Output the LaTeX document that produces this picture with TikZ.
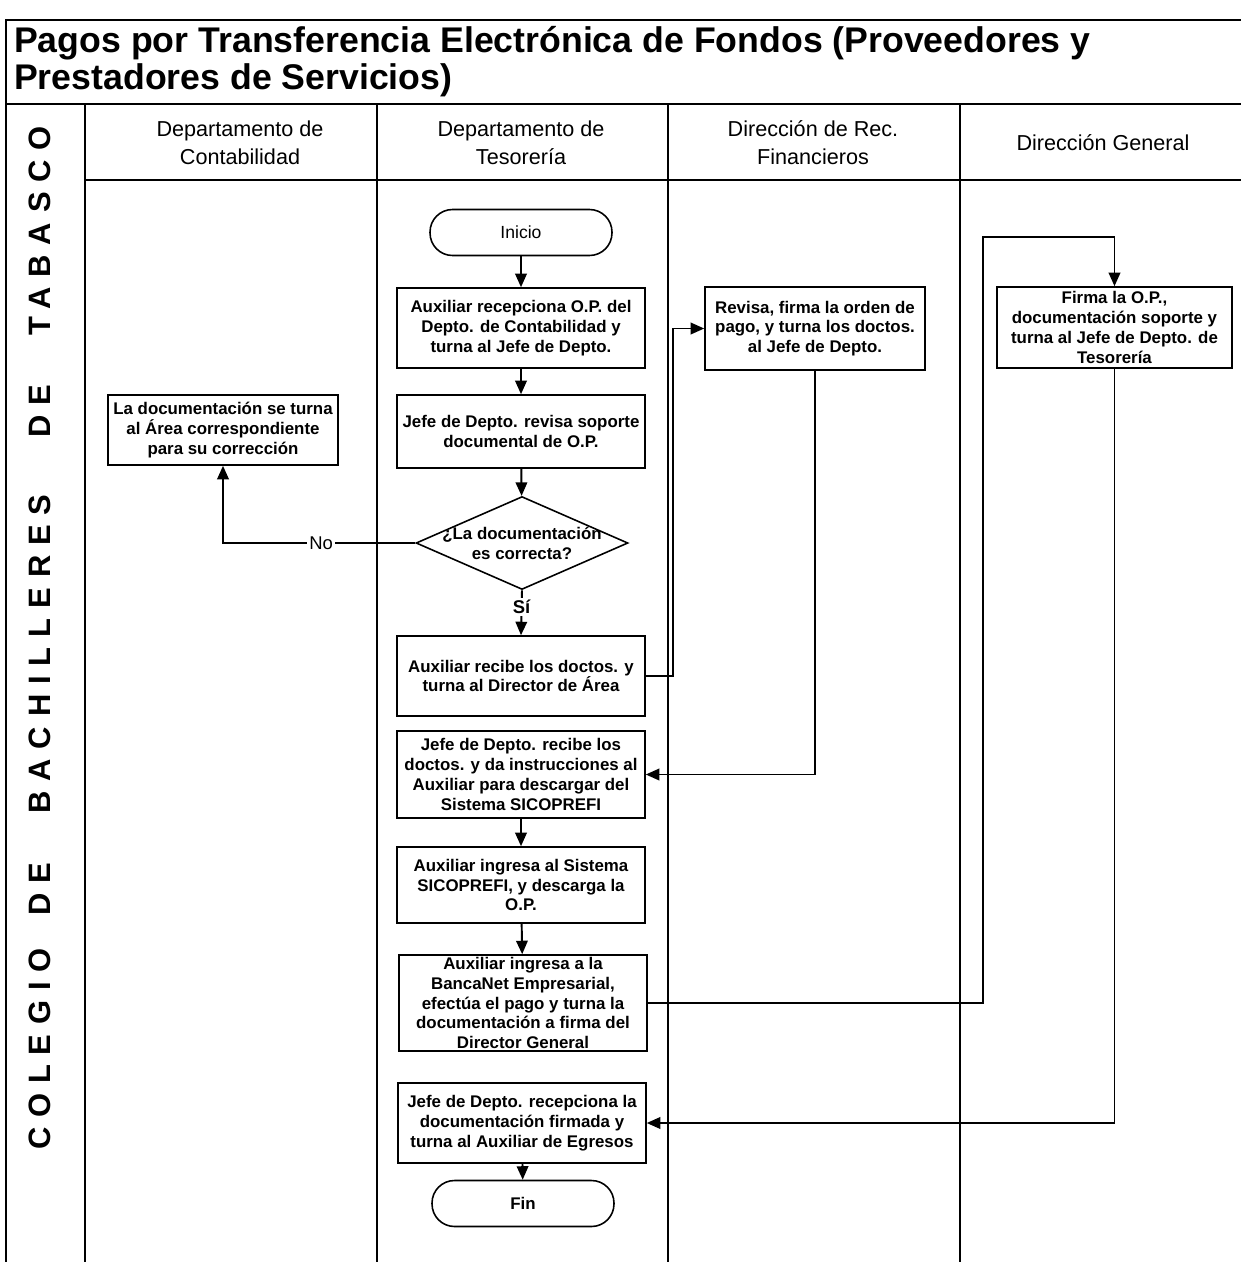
\documentclass[tikz,border=0pt]{standalone}
\usepackage{fontspec}
\setmainfont{Liberation Sans}
\newfontfamily\sidefont[LetterSpace=32]{Liberation Sans}
\usetikzlibrary{arrows.meta,shapes.geometric}
\newcommand{\boxfont}{\fontsize{9.6}{11.3}\selectfont\bfseries}
\newcommand{\cabfont}{\fontsize{12.3}{15.9}\selectfont}
\tikzset{
    proc/.style={draw, rectangle, line width=0.9pt, align=center,
        font=\boxfont, inner sep=1pt, minimum width=4.96cm},
    term/.style={draw, rectangle, rounded corners=0.45cm, line width=0.9pt,
        minimum width=3.64cm, minimum height=0.92cm},
    decis/.style={draw, diamond, aspect=2.28, line width=0.9pt, align=center,
        font=\boxfont, inner xsep=-0.4cm, inner ysep=0pt,
        minimum width=4.24cm, minimum height=1.86cm},
    flecha/.style={line width=1.1pt, -{Triangle[length=0.27cm, width=0.23cm]}},
    rotulo/.style={fill=white, inner sep=1pt, font=\fontsize{10.5}{12}\selectfont},
    cab/.style={align=center, font=\cabfont},
    lado/.style={rotate=90, font=\sidefont\bfseries\fontsize{17.6}{20}\selectfont},
    marco/.style={line width=1.1pt}
}

\begin{document}
\begin{tikzpicture}[x=0.02cm, y=-0.02cm]
    \useasboundingbox (0,0) rectangle (1241,1262);

    % marco y carriles
    \draw[marco] (6,1262) -- (6,20) -- (1241,20);
    \draw[marco] (6,104) -- (1241,104);
    \draw[marco] (85,180) -- (1241,180);
    \foreach \x in {85,377,668,960}
        \draw[marco] (\x,104) -- (\x,1262);

    \node[anchor=west, align=left, font=\fontsize{20.3}{21}\selectfont\bfseries]
        (titulo) at (8,61.5) {Pagos por Transferencia Electrónica de Fondos (Proveedores y\\Prestadores de Servicios)};

    % encabezados
    \node[cab] (hcont) at (240,143) {Departamento de\\Contabilidad};
    \node[cab] (htes) at (521,143) {Departamento de\\Tesorería};
    \node[cab] (hfin) at (813,143) {Dirección de Rec.\\Financieros};
    \node[cab] (hdg) at (1103,143) {Dirección General};

    % rotulo lateral
    \node[lado] (w1) at (40,1049) {COLEGIO};
    \node[lado] (w2) at (40,889) {DE};
    \node[lado] (w3) at (40,654) {BACHILLERES};
    \node[lado] (w4) at (40,411) {DE};
    \node[lado] (w5) at (40,231) {TABASCO};

    % nodos del proceso
    \node[term, font=\fontsize{10}{11.4}\selectfont] (inicio) at (521,232.5) {Inicio};
    \node[proc, minimum height=1.6cm] (recep) at (521,328)
        {Auxiliar recepciona O.P. del\\Depto. de Contabilidad y\\turna al Jefe de Depto.};
    \node[proc, minimum height=1.46cm] (revsop) at (521,431.5)
        {Jefe de Depto. revisa soporte\\documental de O.P.};
    \node[decis] (dec) at (522,543) {¿La documentación\\es correcta?};
    \node[proc, minimum width=4.6cm, minimum height=1.4cm] (corr) at (223,430)
        {La documentación se turna\\al Área correspondiente\\para su corrección};
    \node[proc, minimum height=1.6cm] (recibe) at (521,676)
        {Auxiliar recibe los doctos. y\\turna al Director de Área};
    \node[proc, minimum width=4.4cm, minimum height=1.66cm] (revisa) at (815,328.5)
        {Revisa, firma la orden de\\pago, y turna los doctos.\\al Jefe de Depto.};
    \node[proc, minimum height=1.74cm] (instr) at (521,774.5)
        {Jefe de Depto. recibe los\\doctos. y da instrucciones al\\Auxiliar para descargar del\\Sistema SICOPREFI};
    \node[proc, minimum height=1.52cm] (ingresa) at (521,885)
        {Auxiliar ingresa al Sistema\\SICOPREFI, y descarga la\\O.P.};
    \node[proc, minimum height=1.92cm, inner ysep=0pt] (banca) at (523,1003)
        {Auxiliar ingresa a la\\BancaNet Empresarial,\\efectúa el pago y turna la\\documentación a firma del\\Director General};
    \node[proc, minimum width=4.7cm, minimum height=1.62cm] (firma) at (1114.5,327.5)
        {Firma la O.P.,\\documentación soporte y\\turna al Jefe de Depto. de\\Tesorería};
    \node[proc, minimum height=1.6cm] (recepc) at (522,1123)
        {Jefe de Depto. recepciona la\\documentación firmada y\\turna al Auxiliar de Egresos};
    \node[term, font=\boxfont] (fin) at (523,1203.5) {Fin};
    \coordinate (giro) at (983,237);

    % conexiones
    \draw[flecha] (inicio) -- (recep);
    \draw[flecha] (recep) -- (revsop);
    \draw[flecha] (revsop) -- (dec);
    \draw[flecha] (dec.west) -| node[rotulo, pos=0.245] {No} (corr.south);
    \draw[flecha] (dec.south) -- node[rotulo, pos=0.37, font=\fontsize{10.5}{12}\selectfont\bfseries] {Sí} (recibe.north);
    \draw[flecha] (recibe.east) -- ++(27,0) |- (revisa.west);
    \draw[flecha] (revisa.south) |- (instr.east);
    \draw[flecha] (instr) -- (ingresa);
    \draw[flecha] (ingresa) -- (banca);
    \draw[flecha] (banca.east) -| (giro) -| (firma.north);
    \draw[flecha] (firma.south) |- (recepc.east);
    \draw[flecha] (recepc) -- (fin);
\end{tikzpicture}
\end{document}
